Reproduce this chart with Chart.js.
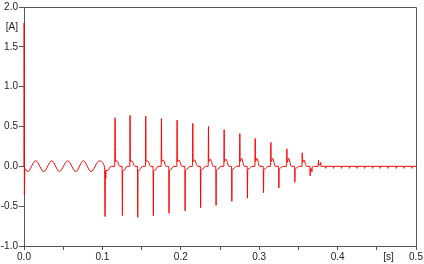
<!DOCTYPE html>
<html>
<head>
<meta charset="utf-8">
<script src="https://cdn.jsdelivr.net/npm/chart.js@4/dist/chart.umd.min.js"></script>
<style>
	html, body { margin: 0; padding: 0; background: #fff; }
	#wrap { width: 424px; height: 264px; }
</style>
</head>
<body>
<div id="wrap"><canvas id="current-chart" width="424" height="264"></canvas></div>
<script>
// start-up transient and 50 Hz ripple, time [s] / current [A]
const startT = [0, 0.0002, 0.0005, 0.0010, 0.0047, 0.0149, 0.0251, 0.0354, 0.0451, 0.0558, 0.0660, 0.0757, 0.0855, 0.0961];
const startA = [0, 1.80, -0.36, -0.03, -0.065, 0.07, -0.065, 0.07, -0.065, 0.07, -0.065, 0.07, -0.065, 0.068];

const switchT = [
	0.1028, 0.1034, 0.1038, 0.1043, 0.1046, 0.1070, 0.1110,
	0.1157, 0.1162, 0.1167, 0.1185, 0.1220,
	0.1251, 0.1255, 0.1259, 0.1275, 0.1315,
	0.1349, 0.1353, 0.1357, 0.1375, 0.1415,
	0.1447, 0.1451, 0.1455, 0.1470, 0.1510,
	0.1549, 0.1553, 0.1557, 0.1575, 0.1615,
	0.1646, 0.1650, 0.1654, 0.1670, 0.1710,
	0.1749, 0.1753, 0.1757, 0.1775, 0.1815,
	0.1846, 0.1850, 0.1854, 0.1870, 0.1910,
	0.1949, 0.1953, 0.1957, 0.1975, 0.2015,
	0.2051, 0.2055, 0.2059, 0.2075, 0.2115,
	0.2149, 0.2153, 0.2157, 0.2175, 0.2215,
	0.2249, 0.2253, 0.2257, 0.2273, 0.2313,
	0.2349, 0.2353, 0.2357, 0.2375, 0.2415,
	0.2446, 0.2450, 0.2454, 0.2470, 0.2510,
	0.2549, 0.2553, 0.2557, 0.2575, 0.2615,
	0.2647, 0.2651, 0.2655, 0.2670, 0.2710,
	0.2749, 0.2753, 0.2757, 0.2775, 0.2810,
	0.2846, 0.2850, 0.2854, 0.2870, 0.2905,
	0.2945, 0.2949, 0.2953, 0.2972, 0.3005,
	0.3051, 0.3055, 0.3059, 0.3075, 0.3110,
	0.3145, 0.3149, 0.3153, 0.3172, 0.3205,
	0.3247, 0.3251, 0.3255, 0.3270, 0.3305,
	0.3349, 0.3353, 0.3357, 0.3375, 0.3410,
	0.3451, 0.3455, 0.3459, 0.3475, 0.3510,
	0.3545, 0.3549, 0.3553, 0.3570, 0.3605,
	0.3646, 0.3650, 0.3654, 0.3668, 0.3672, 0.3676, 0.3710,
	0.3752, 0.3756, 0.3760, 0.3781, 0.3785, 0.3789
];
const switchA = [
	-0.01, -0.63, -0.05, -0.15, -0.05, -0.05, 0.0,
	0.0, 0.61, 0.06, 0.07, 0.0,
	0.0, -0.62, -0.06, -0.05, 0.0,
	0.0, 0.64, 0.06, 0.07, 0.0,
	0.0, -0.64, -0.06, -0.05, 0.0,
	0.0, 0.63, 0.06, 0.07, 0.0,
	0.0, -0.62, -0.06, -0.05, 0.0,
	0.0, 0.60, 0.06, 0.08, 0.0,
	0.0, -0.59, -0.06, -0.04, 0.0,
	0.0, 0.58, 0.06, 0.08, 0.0,
	0.0, -0.56, -0.06, -0.04, 0.0,
	0.0, 0.54, 0.06, 0.08, 0.0,
	0.0, -0.52, -0.06, -0.04, 0.0,
	0.0, 0.50, 0.06, 0.09, 0.0,
	0.0, -0.49, -0.06, -0.04, 0.0,
	0.0, 0.46, 0.06, 0.09, 0.0,
	0.0, -0.44, -0.05, -0.03, 0.0,
	0.0, 0.41, 0.06, 0.10, 0.0,
	0.0, -0.40, -0.05, -0.03, 0.0,
	0.0, 0.35, 0.06, 0.10, 0.0,
	0.0, -0.33, -0.05, -0.03, 0.0,
	0.0, 0.30, 0.06, 0.10, 0.0,
	0.0, -0.27, -0.04, -0.02, 0.0,
	0.0, 0.22, 0.05, 0.10, 0.0,
	0.0, -0.20, -0.04, -0.02, 0.0,
	0.0, 0.17, 0.05, 0.08, 0.0,
	0.0, -0.12, -0.03, -0.03, -0.07, -0.01, 0.0,
	0.0, 0.075, 0.02, 0.02, 0.05, 0.0
];

// settled part, small notches every 10 ms
const tailT = [
	0.3847, 0.3850, 0.3853, 0.3945, 0.3948, 0.3951, 0.4047, 0.4050, 0.4053,
	0.4150, 0.4153, 0.4156, 0.4244, 0.4247, 0.4250, 0.4341, 0.4344, 0.4347,
	0.4443, 0.4446, 0.4449, 0.4541, 0.4544, 0.4547, 0.4643, 0.4646, 0.4649,
	0.4746, 0.4749, 0.4752, 0.4844, 0.4847, 0.4850, 0.4946, 0.4949, 0.4952, 0.5
];
const tailA = [
	0, -0.025, 0, 0, -0.025, 0, 0, -0.025, 0,
	0, -0.025, 0, 0, -0.025, 0, 0, -0.025, 0,
	0, -0.025, 0, 0, -0.025, 0, 0, -0.025, 0,
	0, -0.025, 0, 0, -0.025, 0, 0, -0.025, 0, 0
];

const xTicks = [0, 0.05, 0.1, 0.15, 0.2, 0.25, 0.3, 0.35, 0.4, 0.45, 0.465, 0.5];
const xLabels = ['0.0', '', '0.1', '', '0.2', '', '0.3', '', '0.4', '', '[s]', '0.5'];
const yTicks = [-1, -0.5, 0, 0.5, 1, 1.5, 1.75, 2];
const yLabels = ['-1.0', '-0.5', '0.0', '0.5', '1.0', '1.5', '[A]', '2.0'];

const axisColor = '#555';
const textColor = '#222';
const font = { family: "'Liberation Sans', Arial, sans-serif", size: 10 };

const allT = [...startT, ...switchT, ...tailT];
const allA = [...startA, ...switchA, ...tailA];
const points = allT.map((t, i) => ({ x: t, y: allA[i] }));

const frame = {
	id: 'frame',
	beforeDatasetsDraw: (chart) => {
		const { ctx, chartArea } = chart;
		const l = Math.round(chartArea.left) + 0.5;
		const r = Math.round(chartArea.right) + 0.5;
		const t = Math.round(chartArea.top) + 0.5;
		const b = Math.round(chartArea.bottom) + 0.5;
		ctx.save();
		ctx.strokeStyle = axisColor;
		ctx.lineWidth = 1;
		ctx.beginPath();
		ctx.moveTo(l, t);
		ctx.lineTo(r, t);
		ctx.lineTo(r, b);
		ctx.stroke();
		ctx.restore();
	}
};

new Chart(document.getElementById('current-chart').getContext('2d'), {
	type: 'line',
	data: {
		datasets: [{
			data: points,
			borderColor: 'rgb(255, 0, 0)',
			borderWidth: 1,
			pointRadius: 0,
			cubicInterpolationMode: 'monotone',
			clip: false
		}]
	},
	options: {
		responsive: false,
		animation: false,
		devicePixelRatio: 1,
		layout: { padding: { top: 6, right: 8, left: 0, bottom: 0 } },
		plugins: { legend: { display: false }, tooltip: { enabled: false } },
		scales: {
			x: {
				type: 'linear',
				min: 0,
				max: 0.5,
				afterBuildTicks: (scale) => { scale.ticks = xTicks.map(v => ({ value: v })); },
				afterFit: (scale) => { scale.height = 18; },
				ticks: {
					autoSkip: false,
					maxRotation: 0,
					padding: 1,
					color: textColor,
					font: font,
					callback: (v, i) => xLabels[i]
				},
				grid: {
					drawOnChartArea: false,
					drawTicks: true,
					tickLength: 4,
					tickColor: (c) => xLabels[c.index] === '[s]' ? 'rgba(0,0,0,0)' : axisColor
				},
				border: { display: true, color: axisColor, width: 1 }
			},
			y: {
				type: 'linear',
				min: -1,
				max: 2,
				afterBuildTicks: (scale) => { scale.ticks = yTicks.map(v => ({ value: v })); },
				afterFit: (scale) => { scale.width = 24; },
				ticks: {
					autoSkip: false,
					padding: 1,
					color: textColor,
					font: font,
					callback: (v, i) => yLabels[i]
				},
				grid: {
					drawOnChartArea: false,
					drawTicks: true,
					tickLength: 5,
					tickColor: (c) => yLabels[c.index] === '[A]' ? 'rgba(0,0,0,0)' : axisColor
				},
				border: { display: true, color: axisColor, width: 1 }
			}
		}
	},
	plugins: [frame]
});
</script>
</body>
</html>
